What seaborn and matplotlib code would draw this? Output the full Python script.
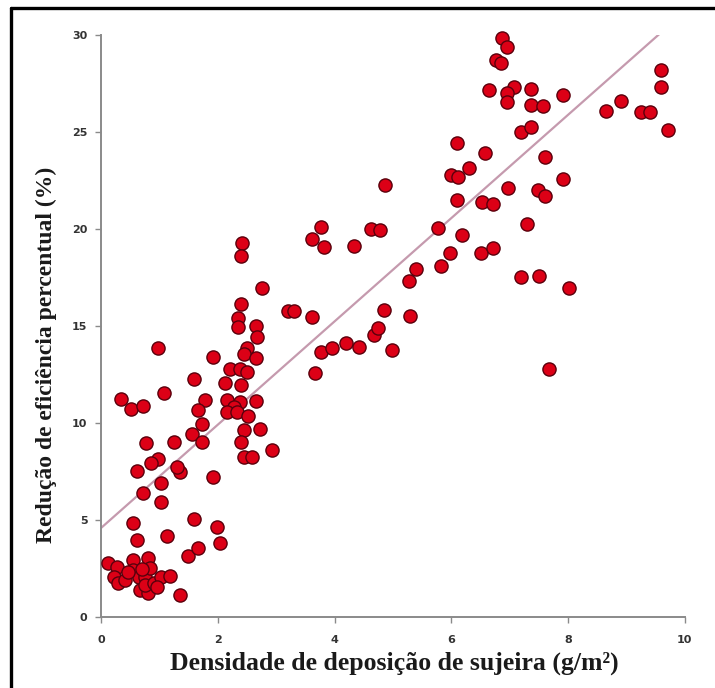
import numpy as np
import pandas as pd
import matplotlib
matplotlib.use("Agg")
import matplotlib.pyplot as plt
from matplotlib.lines import Line2D
import seaborn as sns

# Dirt deposition density (g/m²) and percentage efficiency loss (%)
densidade = [
    0.12, 0.27, 0.21, 0.29, 0.41, 0.55, 0.80, 0.55, 0.64, 0.75, 0.67, 0.80,
    0.75, 0.90, 1.03, 1.18, 0.83, 0.70, 0.45, 0.95, 1.35, 0.61, 0.55, 1.12,
    1.49, 1.66, 1.59, 1.98, 2.04, 0.72, 1.03, 1.03, 1.92, 1.35, 1.29, 0.61,
    0.97, 1.92, 1.59, 1.07, 0.34, 0.51, 0.72, 1.78, 1.66, 1.72, 1.55, 1.72,
    0.77, 1.24, 0.97, 0.86,
    2.42, 2.39, 2.76, 2.39, 2.35, 2.35, 2.66, 2.67, 2.50, 2.44, 2.66, 2.21,
    2.38, 2.50, 2.12, 2.39, 2.15, 2.38, 2.27, 2.15, 2.33, 2.66, 2.51, 2.44,
    2.72, 2.39, 2.44, 2.58, 2.93,
    3.20, 3.31, 3.62, 3.66, 3.76, 3.96, 4.19, 4.42, 4.98, 4.68, 4.74, 4.84,
    5.30, 3.62, 3.81, 3.77, 4.34, 4.62, 4.77, 4.86,
    5.40, 5.28, 5.82, 5.97, 6.51, 6.72, 5.77, 6.19, 6.09, 6.52, 6.72, 5.99,
    6.12, 6.30, 6.09, 6.57, 6.97, 7.49, 7.60, 7.61, 7.92, 7.30, 7.20, 7.51,
    8.01, 7.67,
    6.87, 6.96, 6.77, 6.85, 6.65, 7.07, 6.96, 6.96, 7.37, 7.36, 7.58, 7.91,
    7.19, 7.37,
    8.66, 8.91, 9.26, 9.40, 9.60, 9.60, 9.71,
]
reducao = [
    2.77, 2.59, 2.08, 1.74, 1.91, 2.94, 3.03, 2.42, 2.08, 2.08, 1.39, 1.22,
    1.65, 1.74, 2.08, 2.11, 2.53, 2.45, 2.30, 1.55, 1.13, 3.97, 4.83, 4.19,
    3.14, 3.54, 5.04, 4.62, 3.80, 6.41, 6.92, 5.94, 7.23, 7.49, 7.73, 7.55,
    13.85, 13.39, 12.25, 11.56, 11.22, 10.71, 10.88, 11.19, 10.67, 9.95, 9.43, 9.04,
    8.98, 9.02, 8.13, 7.92,
    19.29, 18.61, 16.94, 16.13, 15.40, 14.96, 15.00, 14.45, 13.85, 13.56, 13.33, 12.77,
    12.77, 12.64, 12.04, 11.96, 11.19, 11.10, 10.84, 10.58, 10.58, 11.15, 10.36, 9.64,
    9.67, 9.04, 8.23, 8.23, 8.61,
    15.79, 15.79, 15.45, 12.59, 13.68, 13.85, 14.10, 13.93, 13.76, 14.54, 14.88, 15.82,
    15.52, 19.47, 19.06, 20.12, 19.12, 19.98, 19.95, 22.27,
    17.92, 17.33, 18.09, 18.75, 18.75, 19.00, 20.04, 19.69, 21.49, 21.41, 21.29, 22.78,
    22.66, 23.13, 24.45, 23.90, 22.13, 22.00, 21.70, 23.70, 22.56, 20.26, 17.54, 17.58,
    16.94, 12.77,
    29.83, 29.40, 28.71, 28.57, 27.16, 27.30, 27.00, 26.56, 27.20, 26.39, 26.34, 26.91,
    25.02, 25.24,
    26.10, 26.61, 26.05, 26.05, 28.20, 27.30, 25.10,
]

# Fitted linear trend: reducao = intercepto + inclinacao * densidade
intercepto = 4.6
inclinacao = 2.66
faixa_ajuste = [0.0, 9.58]

x_ticks = [0, 2, 4, 6, 8, 10]
y_ticks = [0, 5, 10, 15, 20, 25, 30]

dados = pd.DataFrame({"densidade": densidade, "reducao": reducao})
ajuste = pd.DataFrame({"densidade": faixa_ajuste})
ajuste["reducao"] = intercepto + inclinacao * ajuste["densidade"]

sns.set_theme(style="ticks")
plt.rcParams["font.family"] = ["DejaVu Sans"]

fig = plt.figure(figsize=(7.15, 6.88), dpi=100)
ax = fig.add_axes([101.3 / 715, 71 / 688, 583.3 / 715, 582 / 688])

sns.lineplot(data=ajuste, x="densidade", y="reducao", ax=ax,
             color="#c59aae", linewidth=1.6, zorder=2)
sns.scatterplot(data=dados, x="densidade", y="reducao", ax=ax,
                s=90, color="#dc0016", edgecolor="#5a000c", linewidth=1.0,
                zorder=3, clip_on=False)

ax.set_xlim(0, 10)
ax.set_ylim(0, 30)
ax.set_xticks(x_ticks)
ax.set_yticks(y_ticks)
ax.set_xticklabels([str(t) for t in x_ticks])
ax.set_yticklabels([str(t) for t in y_ticks])
ax.set_xlabel("")
ax.set_ylabel("")

for side in ("top", "right"):
    ax.spines[side].set_visible(False)
for side in ("left", "bottom"):
    ax.spines[side].set_color("#8a8a8a")
    ax.spines[side].set_linewidth(1.4)

ax.tick_params(axis="both", direction="out", length=4, width=1.0,
               color="#8a8a8a", labelsize=8, labelcolor="#333333")
ax.tick_params(axis="x", pad=9)
ax.tick_params(axis="y", pad=6)
for lab in ax.get_xticklabels() + ax.get_yticklabels():
    lab.set_fontweight("bold")

fig.text(394 / 715, 1 - 663 / 688, "Densidade de deposição de sujeira (g/m²)",
         ha="center", va="center", fontsize=18.5, fontweight="bold",
         family=["Liberation Serif", "DejaVu Serif"], color="#1a1a1a")
fig.text(46 / 715, 1 - 355 / 688, "Redução de eficiência percentual (%)",
         rotation=90, ha="center", va="center", fontsize=17, fontweight="bold",
         family=["Liberation Serif", "DejaVu Serif"], color="#1a1a1a")

# Outer frame: heavy black rule on the left and top edges
fig.add_artist(Line2D([11.5 / 715, 11.5 / 715], [0, 1 - 8 / 688],
                      transform=fig.transFigure, color="black", linewidth=2.4))
fig.add_artist(Line2D([11.5 / 715, 1], [1 - 8 / 688, 1 - 8 / 688],
                      transform=fig.transFigure, color="black", linewidth=2.4))

fig.savefig("out.png", dpi=100, facecolor="white")
